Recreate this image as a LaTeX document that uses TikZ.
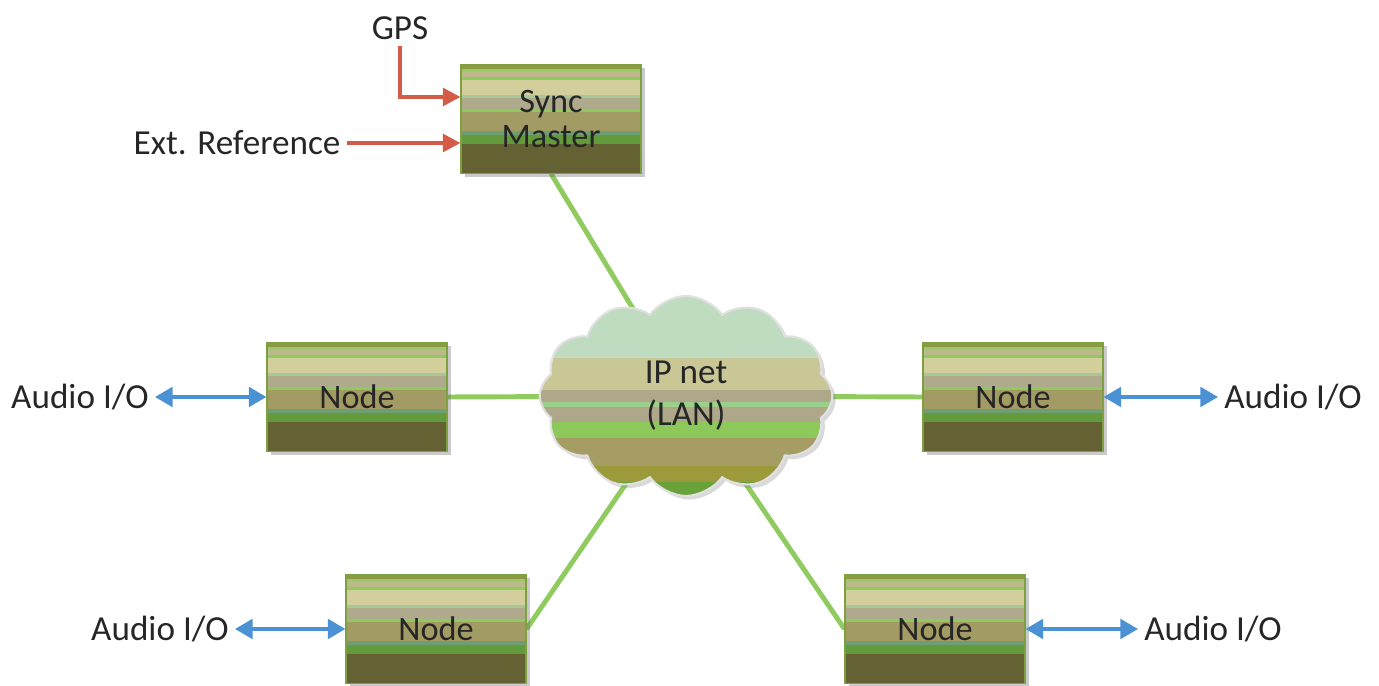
\documentclass[tikz,border=0pt]{standalone}
\usepackage{fontspec}
\setmainfont{Carlito}
\usetikzlibrary{shapes.symbols,shadows,arrows.meta,backgrounds,calc}

\definecolor{txt}{HTML}{262626}
\definecolor{gline}{HTML}{8FCB5E}
\definecolor{redarr}{HTML}{D35B47}
\definecolor{bluearr}{HTML}{4A92D4}
\definecolor{boxedge}{HTML}{7FA040}
% bands of the boxes
\definecolor{b1}{HTML}{8C9A44}
\definecolor{b2}{HTML}{9ACB6A}
\definecolor{b3}{HTML}{BDB98A}
\definecolor{b4}{HTML}{8DCB5C}
\definecolor{b5}{HTML}{D3CF9C}
\definecolor{b6}{HTML}{A8C89A}
\definecolor{b7}{HTML}{B0AA8C}
\definecolor{b8}{HTML}{A39B64}
\definecolor{b9}{HTML}{6E9E74}
\definecolor{b10}{HTML}{629A3C}
\definecolor{b11}{HTML}{646233}
% bands of the cloud
\definecolor{c1}{HTML}{BFDCC0}
\definecolor{c2}{HTML}{CAC796}
\definecolor{c3}{HTML}{AEA78A}
\definecolor{c4}{HTML}{9AD08A}
\definecolor{c6}{HTML}{8CC85A}
\definecolor{c7}{HTML}{A59D63}
\definecolor{c8}{HTML}{9C9A3A}
\definecolor{c9}{HTML}{6AA23A}

\def\boxbands{0/.04/b1, .04/.07/b2, .07/.11/b3, .11/.14/b4, .14/.28/b5, .28/.31/b6, .31/.41/b7, .41/.44/b4, .44/.61/b8, .61/.65/b9, .65/.73/b10, .73/1/b11}
\def\cloudbands{0/.31/c1, .31/.47/c2, .47/.53/c3, .53/.555/c4, .555/.63/c3, .63/.71/c6, .71/.85/c7, .85/.93/c8, .93/1/c9}

\tikzset{
	stripes/.style={path picture={
		\foreach \a/\b/\c in #1
			\fill[\c] ($(path picture bounding box.north west)!\a!(path picture bounding box.south west)$) rectangle ($(path picture bounding box.north east)!\b!(path picture bounding box.south east)$);
	}},
	lbl/.style={text=txt, font=\fontsize{20}{24}\selectfont},
	unit/.style={rectangle, minimum width=3.6cm, minimum height=2.17cm, draw=boxedge, line width=0.6pt,
		stripes=\boxbands, drop shadow={shadow xshift=2pt, shadow yshift=-2pt, opacity=.35, fill=black!60},
		align=center, text=txt, font=\fontsize{19.5}{20}\selectfont},
	lan/.style={cloud, cloud puffs=12, cloud puff arc=110, aspect=1.5, minimum width=5.85cm, minimum height=4cm,
		draw=white!88!black, line width=1.2pt, stripes=\cloudbands,
		drop shadow={shadow xshift=2pt, shadow yshift=-2pt, opacity=.3, fill=black!50},
		align=center, text=txt, font=\fontsize{20}{24}\selectfont},
	link/.style={gline, line width=2.8pt},
	syncin/.style={redarr, line width=2.2pt, -{Triangle[length=10pt,width=10pt]}},
	audio/.style={bluearr, line width=2.2pt, {Triangle[length=10pt,width=11pt]}-{Triangle[length=10pt,width=11pt]}}
}

\begin{document}
\begin{tikzpicture}
	\useasboundingbox (0,0) rectangle (27.58,13.72);

	\node[unit] (master) at (11.02,11.34) {Sync\\Master};
	\node[lan] (cloud) at (13.72,5.8) {IP net\\(LAN)};

	\node[unit] (nodeL) at (7.14,5.78) {Node};
	\node[unit] (nodeR) at (20.26,5.78) {Node};
	\node[unit] (nodeBL) at (8.72,1.14) {Node};
	\node[unit] (nodeBR) at (18.70,1.14) {Node};

	\node[lbl] (gps) at (8.0,13.16) {GPS};
	\node[lbl] (extref) at (4.74,10.86) {Ext. Reference};

	\node[lbl] (audioL) at (1.6,5.78) {Audio I/O};
	\node[lbl] (audioR) at (25.86,5.78) {Audio I/O};
	\node[lbl] (audioBL) at (3.2,1.14) {Audio I/O};
	\node[lbl] (audioBR) at (24.26,1.14) {Audio I/O};

	\begin{scope}[on background layer]
		\draw[link] (master.south) -- (cloud.center);
		\draw[link] (nodeL.east) -- (cloud.center);
		\draw[link] (nodeR.west) -- (cloud.center);
		\draw[link] (nodeBL.east) -- (cloud.center);
		\draw[link] (nodeBR.west) -- (cloud.center);
	\end{scope}

	\draw[syncin] (gps.south) |- ($(master.west)+(0,0.44)$);
	\draw[syncin] (extref.east) -- (extref.east -| master.west);

	\draw[audio] (audioL.east) -- (nodeL.west);
	\draw[audio] (nodeR.east) -- (audioR.west);
	\draw[audio] (audioBL.east) -- (nodeBL.west);
	\draw[audio] (nodeBR.east) -- (audioBR.west);

\end{tikzpicture}
\end{document}
